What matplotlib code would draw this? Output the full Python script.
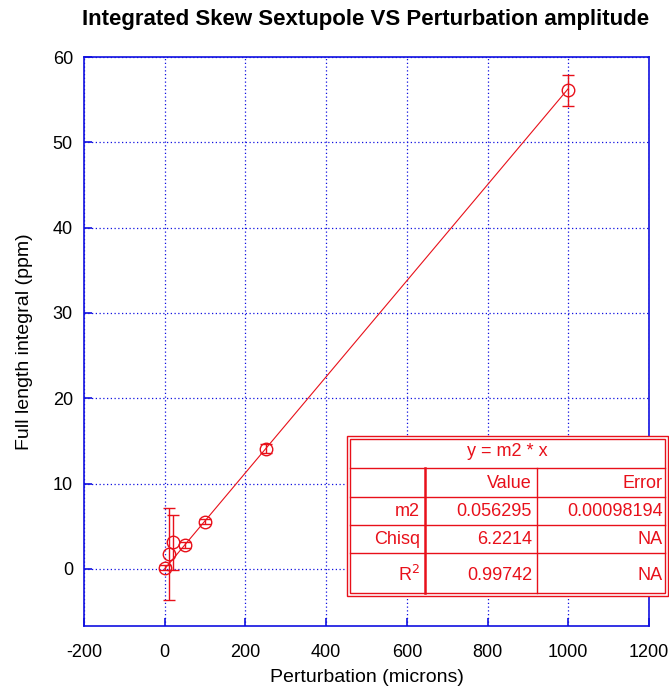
import matplotlib.pyplot as plt
import numpy as np

plt.rcParams['font.family'] = ['Liberation Sans', 'DejaVu Sans']
plt.rcParams['axes.unicode_minus'] = False

# Measured integrated skew sextupole vs perturbation amplitude
perturbation = [0, 10, 20, 50, 100, 250, 1000]
integral = [0.15, 1.7, 3.1, 2.8, 5.5, 14.1, 56.1]
integral_err = [0.3, 5.4, 3.2, 0.3, 0.3, 0.5, 1.8]

# Fit y = m2 * x
m2 = 0.056295
m2_err = 0.00098194
chisq = 6.2214
r2 = 0.99742

red = '#e8101a'
blue = '#1010e0'

W, H = 669, 692
fig = plt.figure(figsize=(W / 100, H / 100), dpi=100)
ax = fig.add_axes([84 / W, 1 - 626 / H, (649 - 84) / W, (626 - 57) / H])

ax.errorbar(perturbation, integral, yerr=integral_err, fmt='o', mfc='none', mec=red,
            ms=9, mew=1.0, ecolor=red, elinewidth=1.0, capsize=4, capthick=1.0, zorder=3)
xfit = np.linspace(0, 1000, 50)
ax.plot(xfit, m2 * xfit, color=red, lw=0.8, zorder=2)

ax.set_xlim(-200, 1200)
ax.set_ylim(-6.7, 60)
ax.set_xticks(range(-200, 1201, 200))
ax.set_yticks(range(0, 61, 10))
ax.grid(True, color=blue, linestyle=(0, (1, 2)), linewidth=0.9)
for s in ax.spines.values():
    s.set_color(blue)
    s.set_linewidth(1.2)
ax.tick_params(direction='in', color=blue, length=6, width=1.2, labelsize=13, pad=13)
ax.tick_params(axis='y', pad=8)
ax.set_xlabel('Perturbation (microns)', fontsize=14, labelpad=6)
ax.set_ylabel('Full length integral (ppm)', fontsize=14, labelpad=14)
fig.text(366 / W, 1 - 20 / H, 'Integrated Skew Sextupole VS Perturbation amplitude',
         ha='center', va='center', fontsize=16, fontweight='bold')

# Fit result table, laid out in pixel coordinates
def fx(px):
    return px / W

def fy(py):
    return 1 - py / H

def hline(x0, x1, y, lw=1.0):
    fig.add_artist(plt.Line2D([fx(x0), fx(x1)], [fy(y), fy(y)], color=red, lw=lw, zorder=10))

def vline(x, y0, y1, lw=1.0):
    fig.add_artist(plt.Line2D([fx(x), fx(x)], [fy(y0), fy(y1)], color=red, lw=lw, zorder=10))

tx0, tx1, ty0, ty1 = 347, 668, 436, 596
fig.add_artist(plt.Rectangle((fx(tx0), fy(ty1)), fx(tx1) - fx(tx0), fy(ty0) - fy(ty1),
                             facecolor='white', edgecolor=red, lw=1.0, zorder=9))
fig.add_artist(plt.Rectangle((fx(tx0 + 3), fy(ty1 - 3)), fx(tx1 - 3) - fx(tx0 + 3),
                             fy(ty0 + 3) - fy(ty1 - 3), facecolor='none', edgecolor=red,
                             lw=1.0, zorder=10))
rows = [468, 497, 525, 553]
for r in rows:
    hline(tx0 + 3, tx1 - 3, r)
vline(425, 468, ty1 - 3, lw=1.8)
vline(537, 468, ty1 - 3)

fig.text(fx((tx0 + tx1) / 2), fy(452), 'y = m2 * x', ha='center', va='center',
         color=red, fontsize=13, zorder=11)
cells = [
    ('', 'Value', 'Error'),
    ('m2', f'{m2:.6f}', f'{m2_err:.8f}'),
    ('Chisq', f'{chisq:.4f}', 'NA'),
    ('R$^2$', f'{r2:.5f}', 'NA'),
]
row_mid = [483, 511, 539, 575]
col_right = [420, 532, 663]
for (a, b, c), y in zip(cells, row_mid):
    for txt, x in zip((a, b, c), col_right):
        fig.text(fx(x), fy(y), txt, ha='right', va='center', color=red, fontsize=13, zorder=11)

fig.savefig('out.png', dpi=100)
